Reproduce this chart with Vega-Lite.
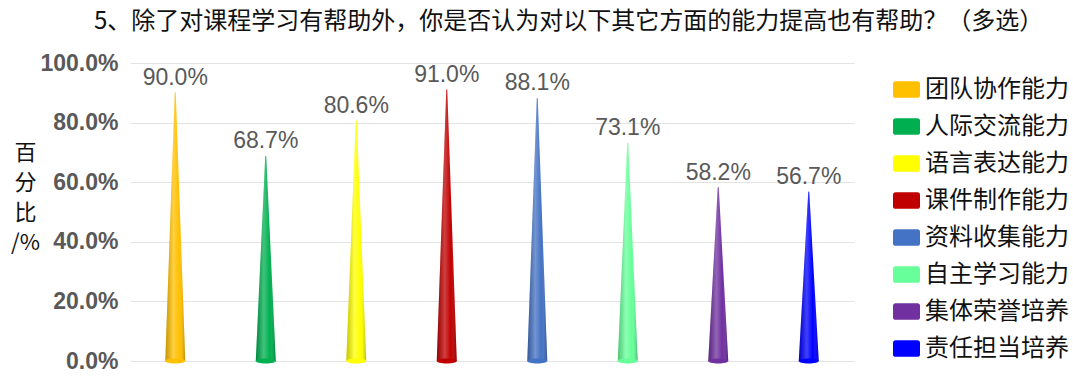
{
  "$schema": "https://vega.github.io/schema/vega-lite/v6.json",
  "width": 724,
  "height": 298,
  "autosize": {"type": "none"},
  "padding": {"left": 130, "top": 63, "right": 219, "bottom": 15},
  "background": "white",
  "title": {
    "text": "5、除了对课程学习有帮助外，你是否认为对以下其它方面的能力提高也有帮助？（多选）",
    "anchor": "start",
    "frame": "group",
    "dx": -36,
    "offset": 18,
    "font": "Noto Sans CJK SC",
    "fontSize": 24,
    "fontWeight": "normal",
    "color": "#111111"
  },
  "data": {
    "values": [
      {"item": "团队协作能力", "start": 0, "pct": 0.900},
      {"item": "人际交流能力", "start": 0, "pct": 0.687},
      {"item": "语言表达能力", "start": 0, "pct": 0.806},
      {"item": "课件制作能力", "start": 0, "pct": 0.910},
      {"item": "资料收集能力", "start": 0, "pct": 0.881},
      {"item": "自主学习能力", "start": 0, "pct": 0.731},
      {"item": "集体荣誉培养", "start": 0, "pct": 0.582},
      {"item": "责任担当培养", "start": 0, "pct": 0.567}
    ]
  },
  "config": {
    "view": {"stroke": null},
    "legend": {
      "orient": "none",
      "legendX": 763,
      "legendY": 13,
      "title": null,
      "symbolType": "M-0.8,-0.62H0.8Q1,-0.62,1,-0.42V0.42Q1,0.62,0.8,0.62H-0.8Q-1,0.62,-1,0.42V-0.42Q-1,-0.62,-0.8,-0.62Z",
      "symbolSize": 729,
      "symbolStrokeWidth": 0,
      "symbolOpacity": 1,
      "labelFont": "Noto Sans CJK SC",
      "labelFontSize": 24,
      "labelColor": "#111111",
      "labelOffset": 5,
      "labelLimit": 300,
      "rowPadding": 11
    }
  },
  "encoding": {
    "x": {
      "field": "item",
      "type": "nominal",
      "sort": ["团队协作能力", "人际交流能力", "语言表达能力", "课件制作能力", "资料收集能力", "自主学习能力", "集体荣誉培养", "责任担当培养"],
      "axis": null
    }
  },
  "layer": [
    {
      "transform": [{"fold": ["start", "pct"], "as": ["end", "share"]}],
      "mark": {"type": "trail", "clip": true},
      "encoding": {
        "y": {
          "field": "share",
          "type": "quantitative",
          "scale": {"domain": [0, 1]},
          "axis": {
            "values": [0, 0.2, 0.4, 0.6, 0.8, 1],
            "format": ".1%",
            "labelFont": "Liberation Sans",
            "labelFontSize": 23,
            "labelFontWeight": "bold",
            "labelColor": "#595959",
            "labelPadding": 12,
            "ticks": false,
            "domain": false,
            "grid": true,
            "gridColor": "#E3E3E3",
            "title": ["百", "分", "比", "/%"],
            "titleAngle": 0,
            "titleX": -105,
            "titleY": 79,
            "titleAlign": "center",
            "titleBaseline": "top",
            "titleLineHeight": 30,
            "titleFont": "Noto Sans CJK SC",
            "titleFontSize": 22,
            "titleFontWeight": "normal",
            "titleColor": "#111111"
          }
        },
        "color": {
          "field": "item",
          "type": "nominal",
          "sort": ["团队协作能力", "人际交流能力", "语言表达能力", "课件制作能力", "资料收集能力", "自主学习能力", "集体荣誉培养", "责任担当培养"],
          "scale": {
            "domain": ["团队协作能力", "人际交流能力", "语言表达能力", "课件制作能力", "资料收集能力", "自主学习能力", "集体荣誉培养", "责任担当培养"],
            "range": ["#FFC000", "#00B050", "#FFFF00", "#C00000", "#4472C4", "#66FF99", "#7030A0", "#0000FF"]
          }
        },
        "size": {"condition": {"test": "datum.end === 'start'", "value": 20}, "value": 0}
      }
    },
    {
      "transform": [{"fold": ["start", "pct"], "as": ["end", "share"]}],
      "mark": {
        "type": "trail",
        "clip": true,
        "fill": {
          "gradient": "linear",
          "x1": 0, "y1": 0, "x2": 1, "y2": 0,
          "stops": [
            {"offset": 0, "color": "rgba(0,0,0,0.22)"},
            {"offset": 0.4, "color": "rgba(255,255,255,0.25)"},
            {"offset": 0.7, "color": "rgba(255,255,255,0)"},
            {"offset": 1, "color": "rgba(0,0,0,0.28)"}
          ]
        }
      },
      "encoding": {
        "y": {"field": "share", "type": "quantitative", "scale": {"domain": [0, 1]}},
        "detail": {"field": "item", "type": "nominal"},
        "size": {"condition": {"test": "datum.end === 'start'", "value": 20}, "value": 0}
      }
    },
    {
      "mark": {
        "type": "point",
        "filled": true,
        "opacity": 1,
        "size": 400,
        "shape": "M-1,0A1,0.25,0,1,0,1,0A1,0.25,0,1,0,-1,0Z"
      },
      "encoding": {
        "y": {"field": "start", "type": "quantitative", "scale": {"domain": [0, 1]}},
        "color": {"field": "item", "type": "nominal"}
      }
    },
    {
      "mark": {
        "type": "text",
        "baseline": "alphabetic",
        "dy": -8,
        "font": "Liberation Sans",
        "fontSize": 23,
        "color": "#595959"
      },
      "encoding": {
        "y": {"field": "pct", "type": "quantitative", "scale": {"domain": [0, 1]}},
        "text": {"field": "pct", "type": "quantitative", "format": ".1%"}
      }
    }
  ]
}
